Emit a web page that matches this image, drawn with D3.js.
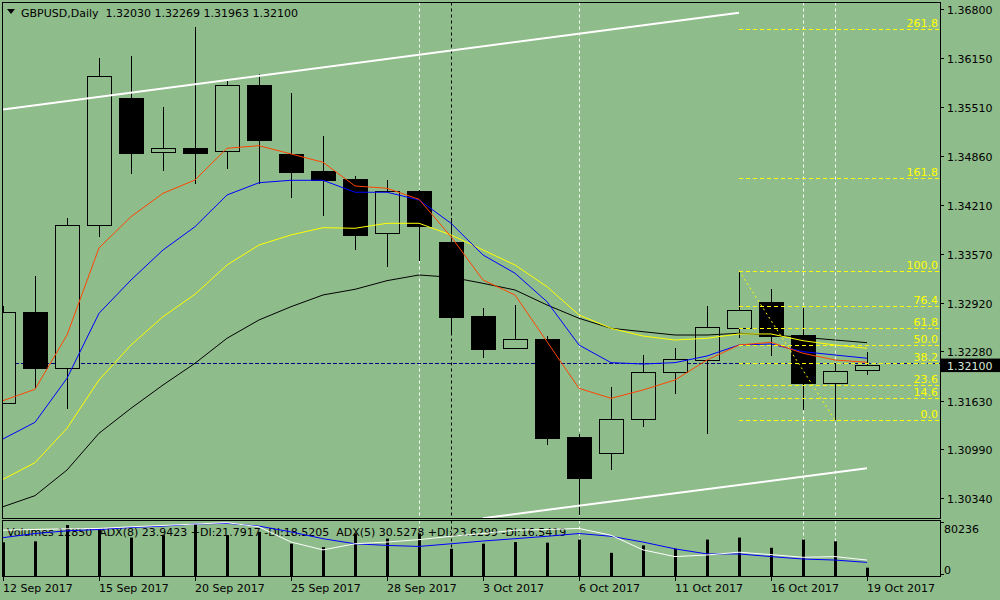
<!DOCTYPE html>
<html><head><meta charset="utf-8">
<script src="https://cdn.jsdelivr.net/npm/d3@7"></script>
<style>
body{margin:0;background:#8FBC8B;}
svg{display:block;}
text{font-family:"DejaVu Sans",Verdana,sans-serif;font-size:11px;white-space:pre;}
</style>
</head><body>
<svg id="c" width="1000" height="600"></svg>
<script>
const dates=["12 Sep 2017","13 Sep 2017","14 Sep 2017","15 Sep 2017","18 Sep 2017","19 Sep 2017","20 Sep 2017","21 Sep 2017","22 Sep 2017","25 Sep 2017","26 Sep 2017","27 Sep 2017","28 Sep 2017","29 Sep 2017","2 Oct 2017","3 Oct 2017","4 Oct 2017","5 Oct 2017","6 Oct 2017","9 Oct 2017","10 Oct 2017","11 Oct 2017","12 Oct 2017","13 Oct 2017","16 Oct 2017","17 Oct 2017","18 Oct 2017","19 Oct 2017"];
const openV =[1.31599,1.32801,1.32058,1.33947,1.35628,1.34911,1.34964,1.34924,1.35796,1.34889,1.34664,1.34558,1.33841,1.34400,1.33726,1.32748,1.32322,1.32441,1.31146,1.30935,1.31384,1.32005,1.32167,1.32586,1.32929,1.32494,1.31867,1.32030];
const highV =[1.32883,1.33277,1.34043,1.36153,1.36183,1.35509,1.36566,1.35853,1.35945,1.35694,1.35126,1.34602,1.34545,1.34410,1.34039,1.32850,1.32894,1.32484,1.31189,1.31807,1.32229,1.32322,1.32881,1.33347,1.33101,1.32850,1.32128,1.32269];
const lowV  =[1.31580,1.31797,1.31516,1.33796,1.34628,1.34668,1.34496,1.34694,1.34488,1.34311,1.34073,1.33616,1.33400,1.33479,1.32507,1.32198,1.32309,1.31044,1.30120,1.30714,1.31286,1.31722,1.31186,1.32454,1.32224,1.31507,1.31373,1.31963];
const closeV=[1.32801,1.32066,1.33947,1.35915,1.34906,1.34964,1.34906,1.35796,1.35077,1.34651,1.34545,1.33822,1.34400,1.33941,1.32739,1.32317,1.32441,1.31141,1.30612,1.31384,1.32005,1.32176,1.32599,1.32824,1.32480,1.31867,1.32018,1.32100];

const maRed   =[1.31630,1.31780,1.32497,1.33647,1.34060,1.34369,1.34545,1.34964,1.34998,1.34889,1.34779,1.34466,1.34435,1.34290,1.33796,1.33224,1.33026,1.32409,1.31793,1.31661,1.31771,1.31903,1.32167,1.32365,1.32401,1.32256,1.32167,1.32137];
const maBlue  =[1.31124,1.31344,1.31926,1.32784,1.33224,1.33620,1.33928,1.34347,1.34509,1.34541,1.34541,1.34383,1.34383,1.34281,1.33973,1.33554,1.33313,1.32937,1.32365,1.32132,1.32114,1.32132,1.32220,1.32365,1.32379,1.32277,1.32233,1.32190];
const maYellow=[1.30591,1.30811,1.31265,1.31903,1.32365,1.32739,1.33035,1.33422,1.33686,1.33819,1.33915,1.33907,1.33973,1.33973,1.33819,1.33620,1.33422,1.33135,1.32762,1.32586,1.32484,1.32431,1.32454,1.32511,1.32511,1.32422,1.32365,1.32322];
const maBlack =[1.30229,1.30375,1.30714,1.31199,1.31529,1.31837,1.32124,1.32454,1.32696,1.32871,1.33026,1.33101,1.33215,1.33290,1.33260,1.33180,1.33092,1.32894,1.32718,1.32586,1.32541,1.32497,1.32497,1.32520,1.32497,1.32467,1.32431,1.32396];

const volumes=[52000,53500,78650,73930,59300,62920,80236,62920,68100,49860,44520,65600,57730,65600,42000,49860,52380,51440,56160,35710,47190,42000,56160,59300,43570,56160,53480,12850];
const adxWhite=[53.2,54.0,54.8,55.2,57.1,58.7,60.3,61.9,57.1,39.4,30.3,37.4,39.4,42.2,46.1,49.3,53.2,54.0,55.2,47.3,30.3,22.5,24.4,27.6,24.8,21.7,22.5,18.5];
const adxBlue =[44.5,49.3,52.4,54.0,56.3,57.9,60.3,61.1,57.9,51.2,43.3,37.4,35.5,34.3,37.4,40.6,43.3,46.1,49.3,46.1,39.4,31.5,25.6,25.6,22.5,19.7,18.5,15.8];

const priceTicks=[1.36800,1.36150,1.35510,1.34860,1.34210,1.33570,1.32920,1.32280,1.31630,1.30990,1.30340];
const dateTickIdx=[0,3,6,9,12,15,18,21,24,27];
const fibLevels=[0,14.6,23.6,38.2,50,61.8,76.4,100,161.8,261.8];
const fibHighIdx=23, fibLowIdx=26, fibHigh=1.33347, fibLow=1.31373;
const upperTrend=[{i:0,p:1.35476},{i:23,p:1.36755}];
const lowerTrend=[{i:15,p:1.30078},{i:27,p:1.30737}];
const vLinesWhite=[13,18,25,26];
const vLinesBlack=[14];
const bidPrice=1.32128;
const lastPrice=1.32100;
const titleText="GBPUSD,Daily  1.32030 1.32269 1.31963 1.32100";
const subText="Volumes 12850  ADX(8) 23.9423 +DI:21.7917 -DI:18.5205  ADX(5) 30.5278 +DI:23.6299 -DI:16.5419";

const svg=d3.select("#c");
const L=2.5,R=940.5,T=2.5,B=518.5,ST=520.5,SB=576.5;
const bg="#8FBC8B";
svg.append("rect").attr("width",1000).attr("height",600).attr("fill",bg);

const x=d3.scaleLinear().domain([0,27]).range([3,867]);
const y=d3.scaleLinear().domain([1.3008,1.36896]).range([518,2]);
const yv=d3.scaleLinear().domain([0,80236]).range([576,524]);
const ya=d3.scaleLinear().domain([0,65]).range([576,520]);

const defs=svg.append("defs");
defs.append("clipPath").attr("id","mainClip").append("rect").attr("x",3).attr("y",3).attr("width",937).attr("height",515);
defs.append("clipPath").attr("id","subClip").append("rect").attr("x",3).attr("y",521).attr("width",937).attr("height",55);

// vertical dashed lines (behind)
const vl=svg.append("g");
vLinesWhite.forEach(i=>{
  [[T,B],[ST,SB]].forEach(([a,b])=>vl.append("line").attr("x1",x(i)+0.5).attr("x2",x(i)+0.5).attr("y1",a).attr("y2",b)
    .attr("stroke","#ffffff").attr("stroke-dasharray","3,3"));
});
vLinesBlack.forEach(i=>{
  [[T,B],[ST,SB]].forEach(([a,b])=>vl.append("line").attr("x1",x(i)+0.5).attr("x2",x(i)+0.5).attr("y1",a).attr("y2",b)
    .attr("stroke","#000000").attr("stroke-dasharray","3,3"));
});

const main=svg.append("g").attr("clip-path","url(#mainClip)");

// bid line
main.append("line").attr("x1",3).attr("x2",940).attr("y1",Math.round(y(bidPrice))+0.5).attr("y2",Math.round(y(bidPrice))+0.5)
  .attr("stroke","#000080").attr("stroke-dasharray","4,2");

// candles
const idx=d3.range(dates.length);
idx.forEach(i=>{
  const cx=Math.round(x(i));
  const o=openV[i],c=closeV[i],h=highV[i],l=lowV[i];
  const yo=y(o),yc=y(c),top=Math.round(Math.min(yo,yc)),bot=Math.round(Math.max(yo,yc));
  main.append("line").attr("x1",cx+0.5).attr("x2",cx+0.5).attr("y1",Math.round(y(h))).attr("y2",Math.round(y(l)))
    .attr("stroke","#000");
  if(c>=o){
    main.append("rect").attr("x",cx-12+0.5).attr("y",top+0.5).attr("width",24).attr("height",Math.max(bot-top,1))
      .attr("fill",bg).attr("stroke","#000");
  } else {
    main.append("rect").attr("x",cx-12).attr("y",top).attr("width",25).attr("height",Math.max(bot-top+1,2))
      .attr("fill","#000");
  }
});

// moving averages
const lineGen=d3.line().x((d,i)=>x(i)).y(d=>y(d));
[[maBlack,"#000000"],[maYellow,"#FFFF00"],[maBlue,"#0000FF"],[maRed,"#FF4500"]].forEach(([arr,col])=>{
  main.append("path").attr("d",lineGen(arr)).attr("fill","none").attr("stroke",col).attr("stroke-width",1);
});

// trend lines
[upperTrend,lowerTrend].forEach(tl=>{
  main.append("line").attr("x1",x(tl[0].i)).attr("y1",y(tl[0].p)).attr("x2",x(tl[1].i)).attr("y2",y(tl[1].p))
    .attr("stroke","#ffffff").attr("stroke-width",2);
});

// fibonacci
const fibG=svg.append("g");
main.append("line").attr("x1",x(fibHighIdx)).attr("y1",y(fibHigh)).attr("x2",x(fibLowIdx)).attr("y2",y(fibLow))
  .attr("stroke","#FFFF00").attr("stroke-dasharray","2,3");
fibLevels.forEach(lv=>{
  const p=fibLow+(fibHigh-fibLow)*lv/100;
  const yy=Math.round(y(p))+0.5;
  fibG.append("line").attr("x1",x(fibHighIdx)).attr("x2",940).attr("y1",yy).attr("y2",yy)
    .attr("stroke","#FFFF00").attr("stroke-dasharray","4,3");
  fibG.append("text").attr("x",938).attr("y",yy-3).attr("text-anchor","end").attr("fill","#FFFF00").text(lv.toFixed(1));
});

// sub panel
const sub=svg.append("g").attr("clip-path","url(#subClip)");
sub.append("text").attr("x",7).attr("y",536).attr("fill","#000").text(subText);
idx.forEach(i=>{
  const cx=Math.round(x(i));
  sub.append("rect").attr("x",cx-1).attr("y",yv(volumes[i])).attr("width",3).attr("height",576-yv(volumes[i])).attr("fill","#000");
});
const aGen=d3.line().x((d,i)=>x(i)).y(d=>ya(d));
sub.append("path").attr("d",aGen(adxBlue)).attr("fill","none").attr("stroke","#0000FF");
sub.append("path").attr("d",aGen(adxWhite)).attr("fill","none").attr("stroke","#ffffff");

// borders
svg.append("rect").attr("x",L).attr("y",T).attr("width",R-L).attr("height",B-T).attr("fill","none").attr("stroke","#000");
svg.append("rect").attr("x",L).attr("y",ST).attr("width",R-L).attr("height",SB-ST).attr("fill","none").attr("stroke","#000");

// price axis
const ax=svg.append("g");
priceTicks.forEach(p=>{
  const yy=Math.round(y(p))+0.5;
  ax.append("line").attr("x1",940).attr("x2",944).attr("y1",yy).attr("y2",yy).attr("stroke","#000");
  ax.append("text").attr("x",947).attr("y",yy+4.5).attr("fill","#000").text(p.toFixed(5));
});
// current price label
const ly=y(lastPrice);
ax.append("rect").attr("x",941).attr("y",ly-6.5).attr("width",59).attr("height",13.5).attr("fill","#000");
ax.append("text").attr("x",947).attr("y",ly+5).attr("fill","#d8e8d8").text(lastPrice.toFixed(5));

// volume axis
[80236,0].forEach(v=>{
  const yy=Math.round(yv(v))-1.5;
  ax.append("line").attr("x1",940).attr("x2",944).attr("y1",yy).attr("y2",yy).attr("stroke","#000");
  ax.append("text").attr("x",944).attr("y",yy+(v?11:0)-1).attr("fill","#000").text(String(v));
});

// date axis
dateTickIdx.forEach(i=>{
  const xx=Math.round(x(i))+0.5;
  ax.append("line").attr("x1",xx).attr("x2",xx).attr("y1",576).attr("y2",581).attr("stroke","#000");
  ax.append("text").attr("x",xx-0.5).attr("y",592).attr("fill","#000").text(dates[i]);
});

// title
svg.append("path").attr("d","M7,9 L15,9 L11,14 Z").attr("fill","#000");
svg.append("text").attr("x",21).attr("y",17).attr("fill","#000").text(titleText);
</script>
</body></html>
